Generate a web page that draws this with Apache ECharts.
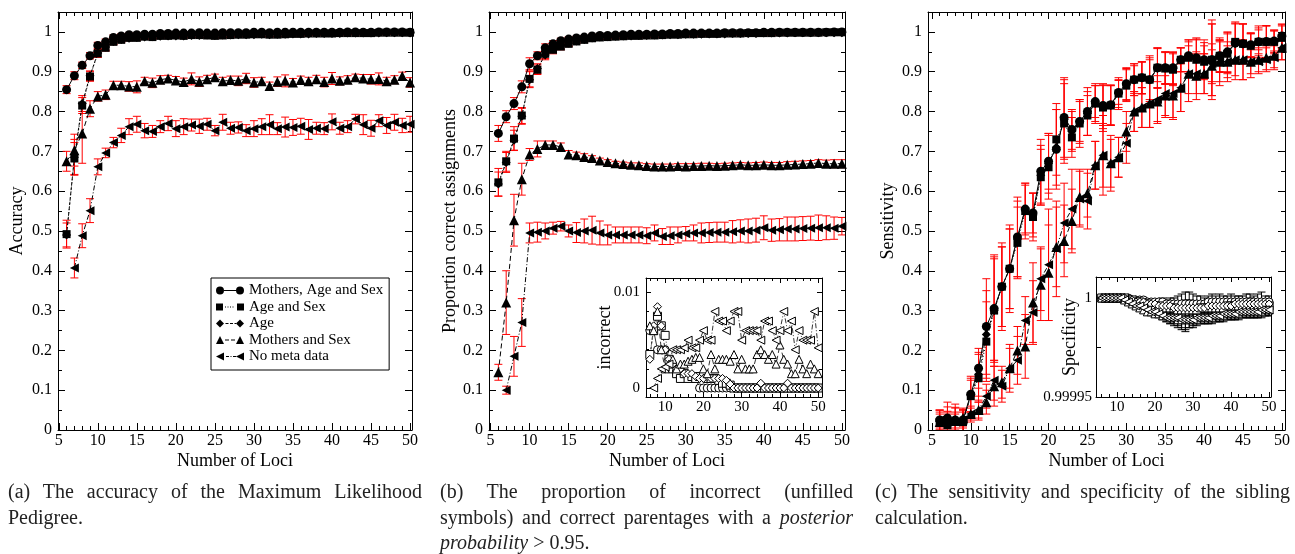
<!DOCTYPE html>
<html><head><meta charset="utf-8">
<script src="https://cdn.jsdelivr.net/npm/echarts/dist/echarts.min.js"></script>
<style>
html,body{margin:0;padding:0;background:#fff;}
#chart{position:absolute;left:0;top:0;width:1295px;height:554px;}
.cap{position:absolute;font-family:'Liberation Serif',serif;font-size:20px;line-height:25.5px;color:#222;}
.j{text-align:justify;text-align-last:justify;}
</style></head>
<body>
<div id="chart"></div>
<div class="cap" style="left:8px;top:479px;width:414px;">
<div class="j">(a) The accuracy of the Maximum Likelihood</div>
<div>Pedigree.</div></div>
<div class="cap" style="left:440px;top:479px;width:413px;">
<div class="j">(b) The proportion of incorrect (unfilled</div>
<div class="j">symbols) and correct parentages with a <i>posterior</i></div>
<div><i>probability</i> &gt; 0.95.</div></div>
<div class="cap" style="left:875px;top:479px;width:415px;">
<div class="j">(c) The sensitivity and specificity of the sibling</div>
<div>calculation.</div></div>
<script>
// ---------- DATA ----------
const loci = [6,7,8,9,10,11,12,13,14,15,16,17,18,19,20,21,22,23,24,25,26,27,28,29,30,31,32,33,34,35,36,37,38,39,40,41,42,43,44,45,46,47,48,49,50];
const seriesNames = ['Mothers, Age and Sex','Age and Sex','Age','Mothers and Sex','No meta data'];

// (a) Accuracy
const accMAS = [.855,.89,.916,.94,.966,.975,.986,.99,.993,.993,.994,.994,.996,.996,.997,.997,.997,.998,.997,.997,.998,.998,.998,.998,.999,.999,.998,.999,.999,.999,.999,.999,.999,.999,.999,.999,1.0,1.0,.999,.999,1.0,1.0,1.0,1.0,.999];
const accAS = [.492,.682,.815,.888,.946,.96,.975,.98,.985,.985,.988,.987,.99,.99,.991,.99,.992,.992,.991,.99,.991,.992,.993,.993,.994,.994,.993,.993,.994,.995,.995,.996,.996,.996,.996,.997,.997,.997,.997,.997,.998,.998,.998,.998,.998];
const accAge = [.49,.685,.82,.89,.947,.962,.976,.981,.984,.986,.987,.988,.989,.99,.99,.99,.991,.991,.992,.991,.992,.992,.993,.993,.993,.994,.993,.994,.994,.995,.995,.995,.996,.996,.996,.996,.997,.997,.997,.997,.997,.998,.998,.998,.997];
const accMS = [.675,.703,.745,.807,.838,.842,.866,.866,.863,.862,.876,.872,.88,.883,.878,.874,.882,.875,.881,.886,.876,.879,.877,.883,.873,.876,.864,.875,.877,.873,.879,.876,.881,.874,.883,.877,.88,.886,.883,.881,.882,.876,.88,.889,.873];
const accNM = [null,.407,.488,.551,.661,.696,.722,.74,.762,.768,.752,.75,.762,.77,.757,.762,.766,.763,.768,.752,.773,.758,.76,.752,.757,.762,.767,.757,.761,.76,.763,.755,.758,.757,.774,.758,.762,.781,.767,.758,.777,.765,.773,.765,.768];
const accErrMAS = [.01,.01,.008,.008,.008,.007,.006,.005,.004,.004,.004,.004,.004,.004,.004,.004,.004,.003,.004,.004,.004,.003,.003,.004,.003,.003,.004,.003,.003,.003,.003,.003,.003,.003,.003,.003,.003,.003,.003,.003,.003,.003,.003,.003,.003];
const accErrAS = [.035,.04,.02,.012,.01,.008,.007,.006,.006,.006,.005,.005,.005,.005,.005,.005,.005,.005,.005,.006,.005,.005,.005,.005,.005,.005,.006,.005,.005,.005,.005,.004,.004,.004,.004,.004,.004,.004,.004,.004,.004,.004,.004,.004,.004];
const accErrAge = [.03,.045,.02,.012,.01,.008,.007,.006,.006,.006,.005,.005,.005,.005,.005,.005,.005,.005,.005,.005,.005,.005,.005,.005,.005,.005,.005,.005,.005,.005,.005,.004,.004,.004,.004,.004,.004,.004,.004,.004,.004,.004,.004,.004,.004];
const accErrMS = [.025,.04,.075,.02,.012,.012,.01,.01,.012,.015,.01,.012,.01,.008,.01,.01,.015,.012,.01,.008,.01,.01,.012,.013,.012,.01,.01,.012,.015,.01,.01,.01,.01,.012,.015,.01,.01,.008,.01,.012,.015,.01,.01,.01,.012];
const accErrNM = [null,.025,.03,.03,.02,.012,.013,.018,.02,.02,.018,.015,.015,.018,.02,.02,.015,.018,.015,.013,.02,.015,.014,.015,.02,.02,.025,.015,.025,.02,.02,.025,.015,.015,.02,.015,.015,.012,.025,.02,.015,.02,.02,.018,.02];

// (b) Proportion correct assignments
const corMAS = [.745,.787,.82,.862,.92,.94,.96,.97,.978,.982,.985,.987,.99,.991,.991,.992,.993,.994,.994,.994,.995,.995,.996,.996,.997,.997,.997,.997,.997,.998,.998,.998,.998,.998,.999,.999,.999,.999,.999,.999,.999,.999,.999,1.0,1.0];
const corAS = [.622,.675,.732,.79,.882,.905,.945,.955,.963,.97,.976,.98,.984,.986,.987,.988,.989,.99,.99,.991,.991,.992,.993,.993,.994,.994,.995,.995,.995,.996,.996,.996,.997,.997,.997,.997,.998,.998,.998,.998,.998,.998,.999,.999,.999];
const corAge = [.618,.672,.728,.788,.88,.908,.942,.958,.965,.972,.977,.981,.985,.987,.988,.989,.99,.99,.991,.991,.992,.992,.993,.993,.994,.994,.994,.995,.995,.995,.996,.996,.996,.996,.997,.997,.997,.997,.998,.998,.998,.998,.998,.998,.998];
const corMS = [.145,.32,.527,.63,.692,.706,.716,.716,.711,.692,.69,.686,.683,.677,.673,.67,.668,.666,.665,.663,.662,.662,.662,.663,.662,.663,.663,.664,.663,.664,.665,.666,.665,.665,.666,.665,.665,.666,.667,.668,.669,.671,.669,.669,.669];
const corNM = [null,.1,.185,.27,.495,.497,.5,.507,.512,.5,.496,.5,.502,.495,.49,.49,.49,.49,.49,.488,.495,.486,.488,.49,.493,.495,.495,.496,.497,.497,.498,.5,.5,.502,.508,.502,.503,.505,.505,.506,.507,.508,.508,.507,.512];
const corErrMAS = [.02,.015,.015,.015,.015,.01,.01,.008,.006,.005,.004,.004,.004,.004,.004,.004,.004,.004,.004,.004,.004,.004,.003,.003,.003,.003,.003,.003,.003,.003,.003,.003,.003,.003,.003,.003,.003,.003,.003,.003,.003,.003,.003,.003,.003];
const corErrAS = [.035,.025,.03,.02,.02,.012,.012,.01,.008,.007,.005,.005,.005,.005,.005,.005,.005,.005,.005,.005,.005,.005,.005,.005,.005,.005,.005,.005,.005,.005,.005,.005,.005,.005,.005,.005,.005,.005,.005,.005,.005,.005,.005,.005,.005];
const corErrAge = [.03,.025,.025,.02,.02,.012,.012,.01,.008,.007,.005,.005,.005,.005,.005,.005,.005,.005,.005,.005,.005,.005,.005,.005,.005,.005,.005,.005,.005,.005,.005,.005,.005,.005,.005,.005,.005,.005,.005,.005,.005,.005,.005,.005,.005];
const corErrMS = [.02,.08,.065,.04,.015,.02,.01,.01,.01,.01,.008,.008,.006,.006,.006,.005,.005,.005,.006,.006,.006,.006,.006,.006,.007,.006,.007,.006,.006,.006,.006,.006,.006,.007,.007,.007,.007,.008,.008,.008,.008,.008,.009,.01,.01];
const corErrNM = [null,.01,.05,.06,.025,.025,.02,.015,.012,.015,.025,.03,.035,.03,.025,.02,.02,.02,.02,.02,.02,.02,.022,.02,.018,.02,.025,.025,.025,.025,.028,.028,.03,.03,.03,.028,.028,.03,.03,.03,.03,.032,.03,.028,.022];

// (b) inset: incorrect (unfilled symbols)
const incMAS = [.006,.006,.004,.004,.004,.003,.002,.0015,.0015,.0015,.0012,.001,.001,0,0,0,0,0,0,0,0,0,0,0,0,0,0,0,0,0,0,0,0,0,0,0,0,0,0,0,0,0,0,0,0];
const incAS = [.0035,.006,.0075,.0065,.0055,.003,.002,.0015,.001,.0015,.001,.0012,.001,.0012,.0012,.001,.001,.001,.0008,.0005,.0005,.0003,0,0,0,0,0,0,0,0,0,0,0,0,0,0,0,0,0,0,0,0,0,0,0];
const incAge = [.003,.0065,.0085,.0065,.004,.003,.0025,.002,.002,.0015,.0015,.0015,.0012,.001,.001,.0012,.001,.001,.001,.001,.0008,.0004,0,0,0,0,0,0,0,.0005,0,0,0,0,0,0,.0005,0,0,0,0,0,0,0,0];
const incMS = [.0065,.006,.008,.004,.002,.0025,.003,.002,.0025,.0025,.0028,.003,.0032,.0032,.002,.0015,.0035,.002,.003,.003,.003,.0028,.0035,.002,.003,.002,.002,.002,.0035,.004,.0035,.003,.0035,.0025,.0045,.003,.0025,.0015,.0015,.003,.002,.0015,.0025,.002,.0015];
const incNM = [null,0,.001,.002,.0022,.0025,.004,.004,.004,.0042,.005,.0042,.0042,.005,.006,.005,.005,.008,.007,.007,.006,.007,.008,.008,.005,.006,.006,.006,.006,.005,.007,.007,.006,.005,.006,.008,.006,.007,.004,.006,.005,.005,.005,.008,.0042];

// (c) Sensitivity
const senMAS = [.025,.03,.025,.025,.09,.155,.26,.305,.36,.405,.485,.555,.545,.65,.675,.705,.785,.755,.775,.8,.825,.815,.817,.848,.87,.88,.885,.88,.91,.91,.91,.93,.94,.935,.93,.93,.94,.95,.972,.97,.968,.975,.976,.977,.99];
const senAS = [.02,.012,.02,.02,.085,.13,.222,.3,.36,.405,.47,.55,.535,.635,.66,.73,.77,.735,.77,.79,.82,.81,.815,.845,.865,.88,.885,.88,.91,.908,.905,.93,.935,.93,.925,.93,.94,.945,.975,.97,.965,.975,.975,.975,.985];
const senAge = [.022,.02,.022,.022,.088,.14,.24,.3,.36,.405,.48,.555,.54,.64,.67,.71,.78,.75,.775,.795,.82,.812,.815,.845,.868,.88,.884,.88,.908,.91,.908,.93,.94,.932,.928,.93,.938,.948,.97,.97,.966,.975,.975,.976,.988];
const senMS = [.02,.025,.025,.03,.04,.05,.07,.11,.12,.155,.2,.21,.32,.365,.395,.46,.475,.525,.585,.595,.665,.69,.67,.685,.75,.8,.81,.82,.825,.84,.84,.86,.895,.89,.895,.915,.925,.925,.93,.93,.925,.93,.935,.94,.96];
const senNM = [.025,.02,.02,.025,.04,.05,.085,.125,.11,.155,.175,.275,.295,.38,.415,.455,.52,.555,.58,.575,.665,.69,.67,.685,.72,.8,.81,.82,.83,.845,.845,.86,.895,.895,.895,.92,.925,.925,.93,.93,.925,.925,.93,.935,.96];
const senErrMAS = [.025,.04,.04,.03,.045,.05,.12,.13,.1,.11,.1,.06,.05,.08,.07,.1,.1,.05,.05,.06,.04,.05,.05,.03,.04,.035,.04,.06,.05,.04,.04,.03,.04,.05,.05,.1,.04,.05,.05,.05,.03,.04,.04,.025,.03];
const senErrAS = [.03,.035,.035,.03,.04,.06,.1,.14,.11,.1,.09,.07,.06,.07,.08,.09,.1,.05,.06,.05,.05,.06,.05,.04,.04,.04,.04,.05,.05,.04,.04,.03,.04,.05,.04,.09,.04,.05,.05,.05,.03,.03,.04,.03,.03];
const senErrAge = [.028,.038,.035,.03,.042,.055,.11,.13,.1,.1,.095,.065,.055,.075,.075,.095,.1,.05,.055,.055,.045,.055,.05,.035,.04,.04,.04,.055,.05,.04,.04,.03,.04,.05,.045,.09,.04,.05,.05,.05,.03,.035,.04,.028,.03];
const senErrMS = [.02,.02,.02,.02,.015,.02,.03,.05,.04,.05,.06,.08,.1,.09,.12,.1,.09,.08,.07,.06,.06,.08,.06,.05,.05,.05,.05,.06,.05,.05,.06,.06,.05,.06,.05,.04,.06,.04,.04,.05,.03,.03,.03,.03,.03];
const senErrNM = [.02,.02,.02,.02,.02,.025,.03,.05,.04,.06,.06,.06,.08,.08,.14,.12,.1,.1,.07,.07,.06,.1,.07,.05,.05,.05,.05,.06,.06,.06,.06,.06,.07,.05,.05,.05,.05,.05,.05,.05,.04,.03,.03,.03,.03];

// (c) inset: specificity
const speMAS = [1,1,1,1,1,1,1,1,.999999,.999999,.999999,.999999,.999998,.999998,.999998,.999998,.999998,.999997,.999997,.999997,.999997,.999997,.999997,.999997,.999997,.999997,.999997,.999997,.999998,.999998,.999998,.999998,.999998,.999998,.999998,.999998,.999998,.999998,.999998,.999998,.999998,.999998,.999998,.999998,.999998];
const speAS = [1,1,1,1,1,1,1,.999999,.999999,.999998,.999998,.999997,.999997,.999996,.999996,.999996,.999995,.999995,.999995,.999995,.999994,.999994,.999994,.999994,.999994,.999994,.999995,.999995,.999995,.999995,.999995,.999995,.999995,.999996,.999996,.999996,.999996,.999996,.999996,.999996,.999996,.999996,.999996,.999996,.999996];
const speAge = [1,1,1,1,1,1,1,.999999,.999999,.999998,.999998,.999998,.999997,.999997,.999997,.999996,.999996,.999996,.999996,.999995,.999995,.999995,.999995,.999995,.999995,.999995,.999995,.999995,.999996,.999996,.999996,.999996,.999996,.999996,.999996,.999997,.999997,.999997,.999997,.999997,.999997,.999997,.999997,.999997,.999997];
const speMS = [1,1,1,1,1,1,.999999,.999998,.999997,.999996,.999995,.999994,.999993,.999993,.999992,.999992,.999991,.999991,.99999,.99999,.999989,.999989,.999989,.999989,.999989,.999989,.99999,.99999,.99999,.99999,.999991,.999991,.999991,.999992,.999992,.999992,.999992,.999993,.999993,.999993,.999993,.999993,.999993,.999994,.999994];
const speNM = [1,1,1,1,1,1,.999999,.999998,.999997,.999996,.999996,.999995,.999994,.999993,.999993,.999992,.999991,.99999,.99999,.99999,.99999,.999989,.999989,.999989,.999989,.99999,.99999,.99999,.99999,.999991,.999991,.999991,.999992,.999992,.999992,.999992,.999993,.999993,.999993,.999993,.999993,.999993,.999994,.999994,.999994];
const speErrMAS = [null,null,null,null,null,null,null,null,null,null,null,null,null,null,null,null,.000002,.000002,.000003,.000003,.000004,.000005,.000006,.000006,.000005,.000004,.000004,.000003,.000003,.000004,.000003,.000004,.000003,.000003,.000004,.000003,.000003,.000003,.000004,.000004,.000003,.000004,.000005,.000003,.000003];
const speErrAS = [null,null,null,null,null,null,null,null,null,null,null,null,null,null,null,.000002,.000002,.000003,.000003,.000003,.000004,.000004,.000005,.000005,.000004,.000004,.000003,.000003,.000003,.000003,.000003,.000003,.000004,.000003,.000003,.000003,.000003,.000003,.000003,.000004,.000003,.000003,.000003,.000003,.000003];
const speErrMS = [null,null,null,null,null,null,null,null,null,null,null,null,null,null,null,null,.000002,.000003,.000003,.000004,.000004,.000005,.000006,.000004,.000004,.000003,.000003,.000003,.000003,.000003,.000003,.000003,.000003,.000003,.000003,.000003,.000003,.000003,.000003,.000003,.000003,.000003,.000003,.000003,.000003];
const speErrNM = [null,null,null,null,null,null,null,null,null,null,null,null,null,null,null,null,null,.000002,.000003,.000003,.000004,.000004,.000005,.000004,.000003,.000003,.000003,.000003,.000003,.000003,.000003,.000003,.000003,.000003,.000003,.000003,.000003,.000003,.000003,.000003,.000003,.000003,.000003,.000003,.000003];

// tick label sets
const incYLabels = [0, 0.01];
const speYLabels = [0.99995, 1];
const speYLabelText = ['0.99995', '1'];

// ---------- BUILD ----------
const FF = 'Liberation Serif';
const grids = [], xAxes = [], yAxes = [], series = [];
const BLACK = {color:'#000', width:1};

function addFrame(f){
  grids.push({left:f.left, top:f.top, width:f.width, height:f.height, containLabel:false,
    show:!!f.bg, backgroundColor:'#fff', borderWidth:0});
  const gi = grids.length - 1;
  const line = {show:true, onZero:false, lineStyle:BLACK};
  const bx = {gridIndex:gi, type:'value', min:f.xmin, max:f.xmax, splitLine:{show:false}, axisTick:{show:false}, axisLabel:{show:false}};
  const by = {gridIndex:gi, type:'value', min:f.ymin, max:f.ymax, splitLine:{show:false}, axisTick:{show:false}, axisLabel:{show:false}};
  const xi = xAxes.length, yi = yAxes.length;
  xAxes.push(Object.assign({}, bx, {position:'bottom', axisLine:line, name:f.xName || '', nameLocation:'middle', nameGap:f.xNameGap || 20,
    nameMoveOverlap:false, nameTextStyle:{fontFamily:FF, fontSize:18, color:'#000'}}));
  xAxes.push(Object.assign({}, bx, {position:'top', axisLine:line}));
  yAxes.push(Object.assign({}, by, {position:'left', axisLine:line, name:f.yName || '', nameLocation:'middle', nameGap:f.yNameGap || 20,
    nameMoveOverlap:false, nameTextStyle:{fontFamily:FF, fontSize:18, color:'#000'}}));
  yAxes.push(Object.assign({}, by, {position:'right', axisLine:line}));
  f.ax = {xi, yi};
  return f;
}

// tick-only grid aligned with the frame's scale, spanning [a,b] of one dimension
function addTicks(f, dim, a, b, interval, len, label){
  const px = v => f.left + (v - f.xmin) / (f.xmax - f.xmin) * f.width;
  const py = v => f.top + (f.ymax - v) / (f.ymax - f.ymin) * f.height;
  let g;
  if (dim === 'x') g = {left:px(a), width:px(b) - px(a), top:f.top, height:f.height};
  else g = {left:f.left, width:f.width, top:py(b), height:py(a) - py(b)};
  grids.push(Object.assign({containLabel:false, show:false}, g));
  const gi = grids.length - 1;
  const tk = {show:true, inside:true, length:len, lineStyle:BLACK};
  const common = {gridIndex:gi, type:'value', min:a, max:b, interval, axisLine:{show:false}, splitLine:{show:false}, axisTick:tk, silent:true};
  const lab = label ? Object.assign({show:true, fontFamily:FF, color:'#000', showMinLabel:true, showMaxLabel:true}, label) : {show:false};
  const hidden = {gridIndex:gi, type:'value', show:false, min:0, max:1};
  if (dim === 'x') {
    xAxes.push(Object.assign({}, common, {position:'bottom', axisLabel:lab}));
    xAxes.push(Object.assign({}, common, {position:'top', axisLabel:{show:false}}));
    yAxes.push(hidden);
  } else {
    yAxes.push(Object.assign({}, common, {position:'left', axisLabel:lab}));
    yAxes.push(Object.assign({}, common, {position:'right', axisLabel:{show:false}}));
    xAxes.push(hidden);
  }
}

function errSeries(ax, ys, es, color, capW){
  const data = [];
  loci.forEach((x,i)=>{ if (ys[i]!=null && es[i]!=null) data.push([x, ys[i], es[i]]); });
  return {type:'custom', xAxisIndex:ax.xi, yAxisIndex:ax.yi, data, z:1, silent:true, clip:true,
    encode:{x:0, y:1},
    renderItem(params, api){
      const x = api.value(0), y = api.value(1), e = api.value(2);
      const t = api.coord([x, y+e]), b = api.coord([x, y-e]);
      const s = {stroke:color, lineWidth:1};
      return {type:'group', children:[
        {type:'line', shape:{x1:t[0], y1:t[1], x2:b[0], y2:b[1]}, style:s},
        {type:'line', shape:{x1:t[0]-capW, y1:t[1], x2:t[0]+capW, y2:t[1]}, style:s},
        {type:'line', shape:{x1:b[0]-capW, y1:b[1], x2:b[0]+capW, y2:b[1]}, style:s}]};
    }};
}

const LTRI = 'path://M0,5L10,0L10,10Z';
const styles = [
  {symbol:'circle', size:9, dash:'solid'},
  {symbol:'rect', size:8, dash:[1,2]},
  {symbol:'diamond', size:9, dash:[3,2]},
  {symbol:'triangle', size:10, dash:[5,3]},
  {symbol:LTRI, size:9, dash:[5,2,1,2]}
];

function lineSeries(name, ax, ys, k, opt){
  opt = opt || {};
  const st = styles[k];
  const data = [];
  loci.forEach((x,i)=>{ if (ys[i]!=null) data.push([x, ys[i]]); });
  return {type:'line', name, xAxisIndex:ax.xi, yAxisIndex:ax.yi, data, z:3,
    symbol:st.symbol, symbolSize:opt.size || st.size, showAllSymbol:true, clip:true,
    lineStyle:{color:'#000', width:opt.lw || 1, type:st.dash},
    itemStyle:{color: opt.hollow ? '#fff' : '#000', borderColor:'#000', borderWidth: opt.hollow ? 1 : 0},
    emphasis:{disabled:true}};
}

const mainLab = {fontSize:16, formatter:v=>String(v)};
function mainFrame(f){
  addFrame(f);
  addTicks(f, 'x', 5, 50, 5, 7, Object.assign({margin:3}, mainLab));
  addTicks(f, 'x', 5, 50, 1, 4, null);
  addTicks(f, 'y', 0, 1, 0.1, 7, Object.assign({margin:6}, mainLab));
  addTicks(f, 'y', 0, 1.05, 0.05, 4, null);
  return f;
}

const fA = mainFrame({left:58, width:354, top:12, height:418, xmin:4.9, xmax:50.25, ymin:0, ymax:1.05,
  xName:'Number of Loci', xNameGap:22, yName:'Accuracy', yNameGap:32});
const fB = mainFrame({left:489, width:356, top:12, height:418, xmin:4.8, xmax:50.4, ymin:0, ymax:1.05,
  xName:'Number of Loci', xNameGap:22, yName:'Proportion correct assignments', yNameGap:30});
const fC = mainFrame({left:928, width:357, top:12, height:418, xmin:4.5, xmax:50.4, ymin:0, ymax:1.05,
  xName:'Number of Loci', xNameGap:22, yName:'Sensitivity', yNameGap:31});

const fBi = addFrame({left:646, width:176, top:278, height:119, xmin:5, xmax:51, ymin:-0.00094, ymax:0.0115,
  bg:true, yName:'incorrect', yNameGap:32});
addTicks(fBi, 'x', 10, 50, 10, 5, {margin:3, fontSize:15, formatter:v=>String(v)});
addTicks(fBi, 'x', 6, 50, 2, 3, null);
addTicks(fBi, 'y', 0, 0.01, 0.01, 5, {margin:6, fontSize:15, customValues:incYLabels, formatter:v=>String(v)});
addTicks(fBi, 'y', 0, 0.01, 0.002, 3, null);

const fCi = addFrame({left:1096, width:175, top:277, height:120, xmin:4.5, xmax:50.5, ymin:0.99995, ymax:1.0000106,
  bg:true, yName:'Specificity', yNameGap:17});
addTicks(fCi, 'x', 10, 50, 10, 5, {margin:3, fontSize:15, formatter:v=>String(v)});
addTicks(fCi, 'x', 6, 50, 2, 3, null);
addTicks(fCi, 'y', 0.99995, 1, 0.000025, 5, {margin:4, fontSize:15, customValues:speYLabels,
  formatter: v => { let best = 0; speYLabels.forEach((t,i)=>{ if (Math.abs(t-v) < Math.abs(speYLabels[best]-v)) best = i; }); return speYLabelText[best]; }});

const RED = '#ff0000';
[[accMAS,accErrMAS],[accAS,accErrAS],[accAge,accErrAge],[accMS,accErrMS],[accNM,accErrNM]].forEach(p=> series.push(errSeries(fA.ax, p[0], p[1], RED, 4)));
[accMAS,accAS,accAge,accMS,accNM].forEach((ys,k)=> series.push(lineSeries(seriesNames[k], fA.ax, ys, k)));
[[corMAS,corErrMAS],[corAS,corErrAS],[corAge,corErrAge],[corMS,corErrMS],[corNM,corErrNM]].forEach(p=> series.push(errSeries(fB.ax, p[0], p[1], RED, 4)));
[corMAS,corAS,corAge,corMS,corNM].forEach((ys,k)=> series.push(lineSeries(seriesNames[k], fB.ax, ys, k)));
[[senMAS,senErrMAS],[senAS,senErrAS],[senAge,senErrAge],[senMS,senErrMS],[senNM,senErrNM]].forEach(p=> series.push(errSeries(fC.ax, p[0], p[1], RED, 4)));
[senMAS,senAS,senAge,senMS,senNM].forEach((ys,k)=> series.push(lineSeries(seriesNames[k], fC.ax, ys, k)));
[incMAS,incAS,incAge,incMS,incNM].forEach((ys,k)=> series.push(lineSeries('inc'+k, fBi.ax, ys, k, {hollow:true, size:8, lw:0.8})));
[[speMAS,speErrMAS],[speAS,speErrAS],[speMS,speErrMS],[speNM,speErrNM]].forEach(p=> series.push(errSeries(fCi.ax, p[0], p[1], '#000', 4)));
[[speMAS,0],[speAS,1],[speAge,2],[speMS,3],[speNM,4]].forEach(p=> series.push(lineSeries('spe'+p[1], fCi.ax, p[0], p[1], {hollow:true, size:8, lw:0.8})));

const icons = [
  'path://M0,4a4,4 0 1,0 8,0a4,4 0 1,0 -8,0Z M8,3.5h12v1h-12Z M20,4a4,4 0 1,0 8,0a4,4 0 1,0 -8,0Z',
  'path://M0,0.5h7v7h-7Z M9,3.5h1v1h-1Z M11.5,3.5h1v1h-1Z M14,3.5h1v1h-1Z M16.5,3.5h1v1h-1Z M21,0.5h7v7h-7Z',
  'path://M4,0L8,4L4,8L0,4Z M9.5,3.5h3v1h-3Z M14,3.5h3v1h-3Z M18.5,3.5h1.5v1h-1.5Z M24,0L28,4L24,8L20,4Z',
  'path://M0,8L4,0L8,8Z M9,3.5h4v1h-4Z M15,3.5h4v1h-4Z M20,8L24,0L28,8Z',
  'path://M0,4L8,0L8,8Z M10,3.5h3v1h-3Z M14.5,3.5h1v1h-1Z M17,3.5h3v1h-3Z M20,4L28,0L28,8Z'
];

const option = {
  animation:false,
  grid:grids, xAxis:xAxes, yAxis:yAxes, series,
  legend:{show:true, orient:'vertical', left:211, top:278, selectedMode:false,
    data: seriesNames.map((n,i)=>({name:n, icon:icons[i]})),
    itemWidth:28, itemHeight:8, itemGap:1.5, padding:[5,6,6,5],
    borderColor:'#000', borderWidth:1, backgroundColor:'#fff',
    textStyle:{fontFamily:FF, fontSize:15, color:'#000', lineHeight:15},
    itemStyle:{color:'#000', borderWidth:0}}
};
const chart = echarts.init(document.getElementById('chart'), null, {renderer:'canvas'});
chart.setOption(option);
</script>
</body></html>
